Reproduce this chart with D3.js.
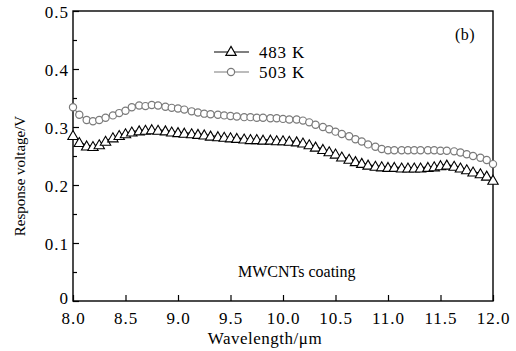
<!DOCTYPE html>
<html><head><meta charset="utf-8">
<script src="https://cdn.jsdelivr.net/npm/d3@7"></script>
<style>
body{margin:0;background:#fff}
svg{display:block}
svg text{font-family:"Liberation Serif","Times New Roman",serif;fill:#000}
</style>
</head><body>
<svg id="chart" width="516" height="351"></svg>
<script>
const wavelength=[8.00,8.06,8.13,8.19,8.25,8.31,8.38,8.44,8.50,8.56,8.63,8.69,8.75,8.81,8.88,8.94,
9.00,9.06,9.13,9.19,9.25,9.31,9.38,9.44,9.50,9.56,9.63,9.69,9.75,9.81,9.88,9.94,
10.00,10.06,10.13,10.19,10.25,10.31,10.38,10.44,10.50,10.56,10.63,10.69,10.75,10.81,10.88,10.94,
11.00,11.06,11.13,11.19,11.25,11.31,11.38,11.44,11.50,11.56,11.63,11.69,11.75,11.81,11.88,11.94,12.00];
const v483=[0.286,0.274,0.268,0.267,0.270,0.276,0.282,0.286,0.289,0.292,0.294,0.295,0.296,0.295,0.294,0.292,
0.291,0.290,0.289,0.288,0.287,0.285,0.284,0.283,0.282,0.281,0.280,0.279,0.279,0.278,0.278,0.277,
0.277,0.276,0.275,0.273,0.270,0.266,0.262,0.258,0.254,0.249,0.245,0.241,0.238,0.235,0.233,0.232,
0.231,0.231,0.230,0.230,0.230,0.230,0.231,0.232,0.234,0.235,0.233,0.230,0.227,0.223,0.220,0.216,0.209];
const v503=[0.334,0.321,0.312,0.310,0.312,0.316,0.320,0.324,0.328,0.334,0.337,0.336,0.338,0.337,0.335,0.333,
0.332,0.330,0.327,0.325,0.323,0.322,0.321,0.320,0.319,0.318,0.317,0.317,0.316,0.316,0.315,0.315,
0.314,0.313,0.313,0.311,0.308,0.304,0.300,0.296,0.292,0.288,0.284,0.279,0.275,0.270,0.266,0.262,
0.260,0.260,0.260,0.260,0.260,0.260,0.260,0.260,0.259,0.259,0.258,0.256,0.253,0.250,0.247,0.243,0.236];
const seriesNames=["483 K","503 K"];
const xTicks=[8.0,8.5,9.0,9.5,10.0,10.5,11.0,11.5,12.0];
const yTicks=[0,0.1,0.2,0.3,0.4,0.5];
const yMinor=[0.05,0.15,0.25,0.35,0.45];
const xTitle="Wavelength/\u03bcm";
const yTitle="Response voltage/V";
const panelLabel="(b)";
const note="MWCNTs coating";

const svg=d3.select("#chart");
const L=73,R=493,T=11,B=301;
const x=d3.scaleLinear().domain([8,12]).range([L,R]);
const y=d3.scaleLinear().domain([0,0.5]).range([B,T]);

// x axis
const gx=svg.append("g").attr("transform",`translate(0,${B})`)
  .call(d3.axisBottom(x).tickValues(xTicks).tickSizeInner(-6).tickSizeOuter(0).tickPadding(11).tickFormat(d=>d.toFixed(1)));
gx.attr("font-family",null).attr("font-size",null);
gx.select(".domain").remove();
gx.selectAll(".tick line").attr("stroke","#000").attr("stroke-width",1.2);
gx.selectAll(".tick text").attr("font-size",17).style("letter-spacing","1px");

// y axis
const gy=svg.append("g").attr("transform",`translate(${L},0)`)
  .call(d3.axisLeft(y).tickValues(yTicks).tickSizeInner(-6).tickSizeOuter(0).tickPadding(4).tickFormat(d=>d===0?"0":d.toFixed(1)));
gy.attr("font-family",null).attr("font-size",null);
gy.select(".domain").remove();
gy.selectAll(".tick line").attr("stroke","#000").attr("stroke-width",1.2);
gy.selectAll(".tick text").attr("font-size",17).style("letter-spacing","1px").attr("dy",d=>d===0?"0.15em":"0.4em");
const gym=svg.append("g").attr("transform",`translate(${L},0)`)
  .call(d3.axisLeft(y).tickValues(yMinor).tickSizeInner(-4).tickSizeOuter(0).tickFormat(""));
gym.select(".domain").remove();
gym.selectAll(".tick line").attr("stroke","#000").attr("stroke-width",1.2);

// frame
svg.append("rect").attr("x",L).attr("y",T).attr("width",R-L).attr("height",B-T)
  .attr("fill","none").attr("stroke","#000").attr("stroke-width",1.4);

const line=d3.line().x(d=>x(d[0])).y(d=>y(d[1]));
const d483=wavelength.map((w,i)=>[w,v483[i]]);
const d503=wavelength.map((w,i)=>[w,v503[i]]);
const tri="M0,-4.6L5.2,4.4L-5.2,4.4Z";

// 503 K series (circles, gray)
svg.append("path").datum(d503).attr("d",line).attr("fill","none").attr("stroke","#7a7a7a").attr("stroke-width",1.1);
svg.append("g").selectAll("circle").data(d503).join("circle")
  .attr("cx",d=>x(d[0])).attr("cy",d=>y(d[1])).attr("r",3.6)
  .attr("fill","#fff").attr("stroke","#7a7a7a").attr("stroke-width",1.2);

// 483 K series (triangles, black)
svg.append("path").datum(d483).attr("d",line).attr("fill","none").attr("stroke","#000").attr("stroke-width",1.1);
svg.append("g").selectAll("path").data(d483).join("path")
  .attr("d",tri).attr("transform",d=>`translate(${x(d[0])},${y(d[1])})`)
  .attr("fill","#fff").attr("stroke","#000").attr("stroke-width",1.1);

// legend
const lg=svg.append("g");
lg.append("line").attr("x1",214).attr("x2",249).attr("y1",52).attr("y2",52).attr("stroke","#000").attr("stroke-width",1.2);
lg.append("path").attr("d",tri).attr("transform","translate(231,51)").attr("fill","#fff").attr("stroke","#000").attr("stroke-width",1.1);
lg.append("text").attr("x",259).attr("y",57.5).attr("font-size",17).style("letter-spacing","0.8px").text(seriesNames[0]);
lg.append("line").attr("x1",214).attr("x2",249).attr("y1",72).attr("y2",72).attr("stroke","#7a7a7a").attr("stroke-width",1.2);
lg.append("circle").attr("cx",231).attr("cy",72).attr("r",3.6).attr("fill","#fff").attr("stroke","#7a7a7a").attr("stroke-width",1.2);
lg.append("text").attr("x",259).attr("y",77.5).attr("font-size",17).style("letter-spacing","0.8px").text(seriesNames[1]);

svg.append("text").attr("x",455).attr("y",40).attr("font-size",16).style("letter-spacing","0.5px").text(panelLabel);
svg.append("text").attr("x",238).attr("y",277).attr("font-size",16).text(note);

svg.append("text").attr("x",265).attr("y",344).attr("text-anchor","middle").attr("font-size",17).style("letter-spacing","0.5px").text(xTitle);
svg.append("text").attr("transform","translate(25,176) rotate(-90)").attr("text-anchor","middle").attr("font-size",15).text(yTitle);
</script>
</body></html>
